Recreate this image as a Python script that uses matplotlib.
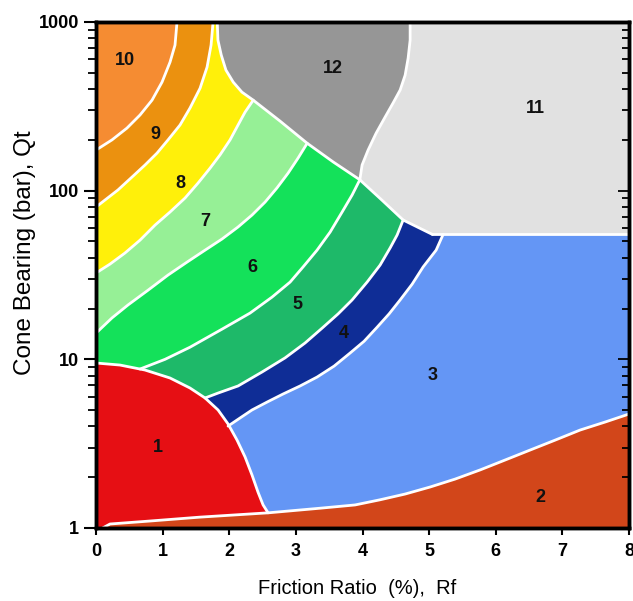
import matplotlib
matplotlib.use("Agg")
import matplotlib.pyplot as plt
from matplotlib.ticker import NullFormatter, LogLocator

plt.rcParams['font.family'] = ['Liberation Sans', 'DejaVu Sans']

# zone boundaries, friction ratio Rf (%) vs cone bearing qt (bar)
diag_x = [1.82, 1.83, 1.88, 1.95, 2.06, 2.19, 2.36, 2.76, 3.17, 3.56, 3.96, 4.29, 4.61, 5.05]
diag_y = [1000, 781, 637, 519, 440, 384, 344, 259, 191, 148, 116, 88, 67, 55]

b12_x = [4.715, 4.715, 4.685, 4.64, 4.565, 4.459, 4.339, 4.204, 4.084, 3.994, 3.96]
b12_y = [1000, 781, 611, 484, 395, 331, 273, 219, 174, 142, 116]

b910_x = [1.216, 1.186, 1.111, 0.991, 0.841, 0.661, 0.465, 0.24, 0.0]
b910_y = [1000, 730, 578, 440, 344, 281, 235, 200, 174]

b89_x = [1.757, 1.727, 1.667, 1.562, 1.411, 1.261, 1.081, 0.916, 0.736, 0.556, 0.33, 0.0]
b89_y = [1000, 730, 540, 405, 309, 245, 200, 167, 142, 122, 101, 80]

b78_x = [2.36, 2.237, 2.132, 2.012, 1.862, 1.712, 1.532, 1.336, 1.111, 0.886, 0.661, 0.435, 0.21, 0.0]
b78_y = [344, 292, 245, 200, 163, 136, 111, 90.4, 74.7, 62.5, 50.9, 42.7, 36.7, 32.5]

b67_x = [3.17, 3.033, 2.883, 2.718, 2.538, 2.342, 2.132, 1.892, 1.637, 1.366, 1.081, 0.781, 0.48, 0.24, 0.0]
b67_y = [191, 156, 127, 104, 85.6, 71.7, 60.9, 51.7, 44.4, 37.7, 31.6, 25.7, 21.0, 17.6, 14.3]

b56_x = [3.96, 3.844, 3.694, 3.514, 3.318, 3.108, 2.913, 2.643, 2.312, 1.892, 1.411, 1.036, 0.661]
b56_y = [116, 94.2, 74.7, 56.8, 44.4, 35.3, 28.7, 23.4, 18.8, 15.1, 11.8, 10.0, 8.76]

b45_x = [4.61, 4.52, 4.414, 4.264, 4.069, 3.844, 3.634, 3.393, 3.138, 2.838, 2.492, 2.132, 1.832, 1.637]
b45_y = [67, 54.6, 45.7, 36.2, 28.7, 22.5, 18.6, 15.3, 12.5, 10.2, 8.41, 6.95, 6.31, 5.90]

b34_x = [5.21, 5.105, 4.91, 4.745, 4.565, 4.399, 4.219, 4.024, 3.814, 3.574, 3.318, 3.063, 2.808, 2.568, 2.342, 2.162, 1.982]
b34_y = [55, 44.4, 35.3, 27.9, 22.5, 18.6, 15.5, 12.8, 10.9, 9.12, 7.85, 6.95, 6.23, 5.58, 5.01, 4.49, 4.02]

b1_x = [0.0, 0.36, 0.736, 1.111, 1.411, 1.637, 1.832, 1.982, 2.117, 2.237, 2.342, 2.432, 2.508, 2.583]
b1_y = [9.51, 9.25, 8.64, 7.75, 6.76, 5.90, 5.01, 4.14, 3.32, 2.64, 2.06, 1.63, 1.37, 1.23]

b2_x = [0.1, 0.21, 0.811, 1.562, 2.583, 3.363, 3.889, 4.264, 4.64, 5.015, 5.39, 5.766, 6.141, 6.517, 6.892, 7.267, 7.643, 8.0]
b2_y = [1.0, 1.056, 1.10, 1.16, 1.23, 1.31, 1.37, 1.47, 1.59, 1.75, 1.95, 2.21, 2.53, 2.90, 3.32, 3.81, 4.25, 4.74]

zone3_top = 55

zone_colors = {
    1: '#E60F14', 2: '#D2461A', 3: '#6496F5', 4: '#0F2D96',
    5: '#1EB969', 6: '#14E15A', 7: '#96F096', 8: '#FFF00A',
    9: '#EB910F', 10: '#F58C32', 11: '#E1E1E1', 12: '#969696',
}

label_x = [0.93, 6.67, 5.05, 3.72, 3.02, 2.34, 1.64, 1.27, 0.89, 0.44, 6.59, 3.56]
label_y = [3.02, 1.51, 8.07, 14.3, 21.0, 34.8, 65.2, 111, 214, 594, 309, 533]
label_txt = ['1', '2', '3', '4', '5', '6', '7', '8', '9', '10', '11', '12']

fig = plt.figure(figsize=(6.33, 6.01), dpi=100)
ax = fig.add_axes([96 / 633, 1 - 528 / 601, 533 / 633, 506 / 601])
ax.set_yscale('log')
ax.set_xlim(0, 8)
ax.set_ylim(1, 1000)

diag = list(zip(diag_x, diag_y))


def fill(pts, zone):
    xs, ys = zip(*pts)
    ax.fill(xs, ys, color=zone_colors[zone], lw=0, zorder=1)


def fan(bx, by, left_y, k, zone):
    # region above/left of a boundary, closed by the left edge and the diagonal
    pts = list(zip(bx, by)) + [(0, left_y), (0, 1000)] + diag[:k + 1]
    fill(pts, zone)


# background zones
fill([(0, 1), (8, 1), (8, 1000), (0, 1000)], 11)
fill([(0, 1), (8, 1), (8, zone3_top), (0, zone3_top)], 3)
fill([(1.82, 1000)] + list(zip(b12_x, b12_y)) + diag[:11][::-1], 12)

# fan of zones 4..10, painted from the outside in
fan(b34_x, b34_y, 4.0, 13, 4)
fan(b45_x, b45_y, 5.5, 12, 5)
fan(b56_x, b56_y, 8.5, 10, 6)
fan(b67_x, b67_y, 14.3, 8, 7)
fan(b78_x, b78_y, 32.5, 6, 8)
fill(list(zip(b89_x, b89_y)) + [(0, 1000)], 9)
fill(list(zip(b910_x, b910_y)) + [(0, 1000)], 10)

fill(list(zip(b1_x, b1_y)) + [(2.583, 1), (0, 1)], 1)
fill(list(zip(b2_x, b2_y)) + [(8, 1)], 2)

# white boundary lines
for bx, by in [(b2_x, b2_y), (b1_x, b1_y), (b34_x, b34_y), (b45_x, b45_y),
               (b56_x, b56_y), (b67_x, b67_y), (b78_x, b78_y), (b89_x, b89_y),
               (b910_x, b910_y), (diag_x, diag_y), (b12_x, b12_y),
               ([5.05, 8], [zone3_top, zone3_top])]:
    ax.plot(bx, by, color='white', lw=2, zorder=2, solid_capstyle='round',
            solid_joinstyle='round')

for x, y, t in zip(label_x, label_y, label_txt):
    ax.text(x, y, t, ha='center', va='center', fontsize=13, fontweight='bold',
            color='#111111', zorder=3)

ax.set_xticks(range(0, 9))
ax.set_yticks([1, 10, 100, 1000])
ax.set_yticklabels(['1', '10', '100', '1000'])
ax.yaxis.set_minor_locator(LogLocator(base=10, subs=range(2, 10)))
ax.yaxis.set_minor_formatter(NullFormatter())
ax.tick_params(axis='both', which='major', labelsize=13, width=1.5, color='black')
ax.tick_params(axis='y', which='major', length=9, pad=3)
ax.tick_params(axis='y', which='minor', length=6, width=1.3)
ax.tick_params(axis='x', which='major', length=5, pad=6)
for lab in ax.get_xticklabels() + ax.get_yticklabels():
    lab.set_fontweight('bold')

# inward ticks along the right edge
ax2 = ax.twinx()
ax2.set_yscale('log')
ax2.set_ylim(1, 1000)
ax2.yaxis.set_minor_locator(LogLocator(base=10, subs=range(2, 10)))
ax2.yaxis.set_minor_formatter(NullFormatter())
ax2.tick_params(which='both', direction='in', labelright=False, width=1.3)
ax2.tick_params(which='major', length=8)
ax2.tick_params(which='minor', length=5)

for a in (ax, ax2):
    for s in a.spines.values():
        s.set_linewidth(2.5)
        s.set_zorder(5)

fig.text(357 / 633, 1 - 588 / 601, 'Friction Ratio  (%),  Rf', ha='center',
         va='center', fontsize=14.5)
fig.text(25 / 633, 1 - 253 / 601, 'Cone Bearing (bar), Qt', ha='center',
         va='center', rotation=90, fontsize=17.5)

fig.savefig('out.png', dpi=100)
